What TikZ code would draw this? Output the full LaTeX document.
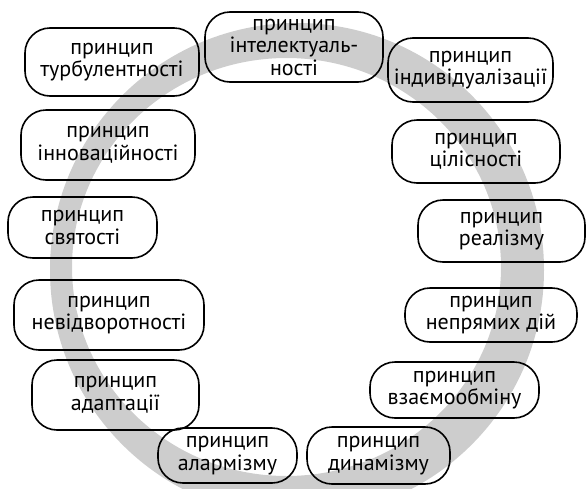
\documentclass[tikz,border=0pt]{standalone}
\usepackage{fontspec}
\setmainfont{PT Sans}
\usepackage{xcolor}
\usepackage{tikz}
\definecolor{ringgray}{RGB}{205,205,205}

\begin{document}
\begin{tikzpicture}[x=1pt, y=-1pt, every node/.style={draw, rounded corners=25pt, align=center, line width=1.6pt, inner sep=0pt, font=\fontsize{22}{22.5}\selectfont}]
\useasboundingbox (0,0) rectangle (587,488);
\clip (0,0) rectangle (587,488);
\fill[ringgray, even odd rule] (297,270) ellipse [x radius=247, y radius=247] (286.5,267) ellipse [x radius=214.5, y radius=209];
\node[minimum width=174pt, minimum height=68pt] (p1) at (112,62) {принцип\\турбулентності};
\node[minimum width=174pt, minimum height=70pt] (p2) at (108,145) {принцип\\інноваційності};
\node[minimum width=149pt, minimum height=61pt] (p3) at (82.5,227.5) {принцип\\святості};
\node[minimum width=190pt, minimum height=70pt] (p4) at (109,315) {принцип\\невідворотності};
\node[minimum width=167pt, minimum height=70pt] (p5) at (115.5,395) {принцип\\адаптації};
\node[minimum width=139pt, minimum height=55pt] (p6) at (227.5,455.5) {принцип\\алармізму};
\node[minimum width=143pt, minimum height=57pt] (p7) at (378.5,455.5) {принцип\\динамізму};
\node[minimum width=169pt, minimum height=56pt] (p8) at (454.5,390) {принцип\\взаємообміну};
\node[minimum width=172pt, minimum height=54pt] (p9) at (491,315) {принцип\\непрямих дій};
\node[minimum width=167pt, minimum height=62pt] (p10) at (501.5,231) {принцип\\реалізму};
\node[minimum width=168pt, minimum height=63pt] (p11) at (476,151.5) {принцип\\цілісності};
\node[minimum width=165pt, minimum height=64pt] (p12) at (470.5,70) {принцип\\індивідуалізації};
\node[minimum width=178pt, minimum height=70pt] (p13) at (294,47) {принцип\\інтелектуаль-\\ності};
\end{tikzpicture}
\end{document}
